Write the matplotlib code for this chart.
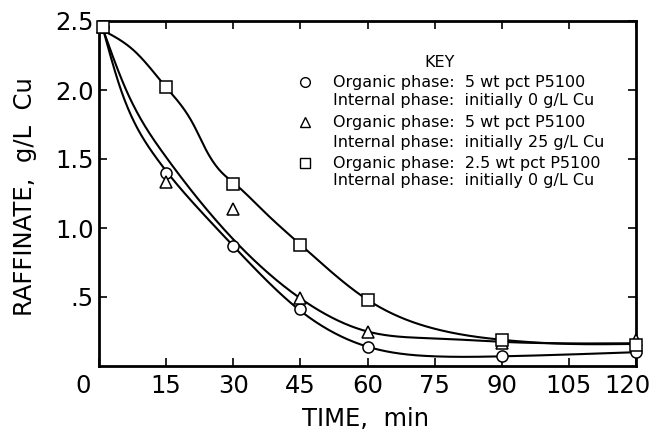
import numpy as np
import matplotlib
matplotlib.use("Agg")
import matplotlib.pyplot as plt

# measured points (time in min, raffinate g/L Cu)
times = [1, 15, 30, 45, 60, 90, 120]
cu_5pct_0 = [2.46, 1.40, 0.87, 0.41, 0.135, 0.075, 0.10]
cu_5pct_25 = [2.46, 1.33, 1.14, 0.49, 0.25, 0.17, 0.19]
cu_25pct_0 = [2.46, 2.02, 1.32, 0.88, 0.48, 0.19, 0.15]

# hand drawn trend curves
curve_a_t = [1, 4.7, 12.1, 22.5, 30, 45, 60, 75, 90, 120]
curve_a_y = [2.43, 2.02, 1.54, 1.13, 0.87, 0.40, 0.14, 0.07, 0.07, 0.10]
curve_b_t = [1, 5.8, 14.4, 26.3, 45, 60, 75, 90, 120]
curve_b_y = [2.43, 2.02, 1.54, 1.05, 0.49, 0.25, 0.20, 0.175, 0.165]
curve_c_t = [1, 8, 15, 18.1, 21.1, 24.1, 27.8, 30, 37.5, 45, 60, 75, 90, 105, 120]
curve_c_y = [2.43, 2.28, 2.02, 1.90, 1.75, 1.555, 1.39, 1.33, 1.10, 0.88, 0.48,
             0.27, 0.19, 0.16, 0.16]

x_ticks = [0, 15, 30, 45, 60, 75, 90, 105, 120]
y_ticks = [0.5, 1.0, 1.5, 2.0, 2.5]
y_tick_labels = [".5", "1.0", "1.5", "2.0", "2.5"]

key_lines = [
    ("o", "Organic phase:  5 wt pct P5100", "Internal phase:  initially 0 g/L Cu"),
    ("^", "Organic phase:  5 wt pct P5100", "Internal phase:  initially 25 g/L Cu"),
    ("s", "Organic phase:  2.5 wt pct P5100", "Internal phase:  initially 0 g/L Cu"),
]


def spline(x, y, xs):
    # natural cubic spline
    x = np.asarray(x, float)
    y = np.asarray(y, float)
    n = len(x)
    h = np.diff(x)
    d = np.diff(y) / h
    A = np.zeros((n, n))
    r = np.zeros(n)
    A[0, 0] = A[-1, -1] = 1
    for i in range(1, n - 1):
        A[i, i - 1] = h[i - 1]
        A[i, i] = 2 * (h[i - 1] + h[i])
        A[i, i + 1] = h[i]
        r[i] = 6 * (d[i] - d[i - 1])
    M = np.linalg.solve(A, r)
    i = np.clip(np.searchsorted(x, xs) - 1, 0, n - 2)
    a = x[i + 1] - xs
    b = xs - x[i]
    hi = h[i]
    return (M[i] * a**3 / (6 * hi) + M[i + 1] * b**3 / (6 * hi)
            + (y[i] / hi - M[i] * hi / 6) * a + (y[i + 1] / hi - M[i + 1] * hi / 6) * b)


plt.rcParams["font.family"] = "DejaVu Sans"

fig = plt.figure(figsize=(6.57, 4.32), dpi=100)
ax = fig.add_axes([99 / 657, 66 / 432, 537 / 657, 345 / 432])

for ct, cy in [(curve_a_t, curve_a_y), (curve_b_t, curve_b_y), (curve_c_t, curve_c_y)]:
    ts = np.linspace(ct[0], ct[-1], 500)
    ax.plot(ts, spline(ct, cy, ts), color="black", lw=1.5, zorder=2)

mk = dict(ls="none", mfc="white", mec="black", mew=1.1, zorder=3, clip_on=False)
ax.plot(times, cu_5pct_0, marker="o", ms=8, **mk)
ax.plot(times, cu_5pct_25, marker="^", ms=8, **mk)
ax.plot(times, cu_25pct_0, marker="s", ms=8, **mk)

ax.set_xlim(0, 120)
ax.set_ylim(0, 2.5)
ax.set_xticks(x_ticks)
ax.set_xticklabels([""] + [str(v) for v in x_ticks[1:-1]] + [""])
ax.set_yticks(y_ticks)
ax.set_yticklabels(y_tick_labels)
ax.tick_params(direction="in", top=True, right=True, length=6, width=1.2,
               labelsize=17.5, color="black")
ax.tick_params(axis="x", pad=6)
ax.tick_params(axis="y", pad=4)
# end labels sit a little inward in the original
for v, dx in [(x_ticks[0], -11.5), (x_ticks[-1], -6.5)]:
    ax.annotate(str(v), xy=(v, 0), xycoords=("data", "axes fraction"),
                xytext=(dx, -6), textcoords="offset points",
                ha="center", va="top", fontsize=17.5)

for s in ax.spines.values():
    s.set_linewidth(2)

ax.set_xlabel("TIME,  min", fontsize=17.5)
ax.set_ylabel("RAFFINATE,  g/L  Cu", fontsize=17.5)
ax.xaxis.set_label_coords(0.497, -0.12)
ax.yaxis.set_label_coords(-0.115, 0.49)

# key
ax.text(0.635, 0.881, "KEY", transform=ax.transAxes, ha="center", va="center",
        fontsize=11.5)
rows = [(0.823, 0.771), (0.707, 0.649), (0.588, 0.539)]
for (m, l1, l2), (y1, y2) in zip(key_lines, rows):
    ax.plot([0.384], [y1], marker=m, ms=7, mfc="white", mec="black", mew=1.0,
            transform=ax.transAxes, clip_on=False)
    ax.text(0.436, y1, l1, transform=ax.transAxes, va="center", fontsize=11.5)
    ax.text(0.436, y2, l2, transform=ax.transAxes, va="center", fontsize=11.5)

fig.savefig("out.png", dpi=100)
